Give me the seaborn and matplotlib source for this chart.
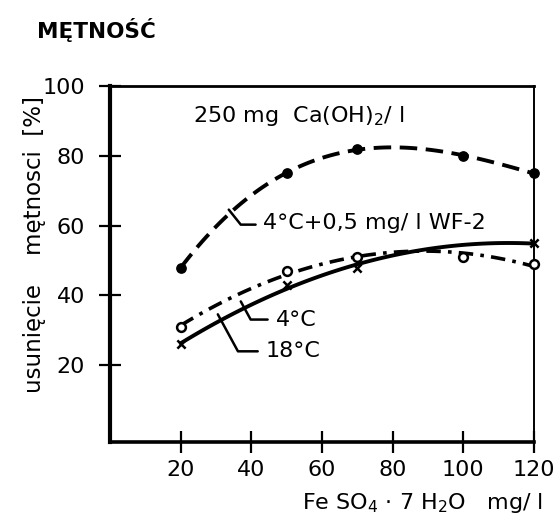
import numpy as np
import pandas as pd
import matplotlib
matplotlib.use("Agg")
import matplotlib.pyplot as plt
import seaborn as sns

# Data
x_wf2 = [20, 50, 70, 100, 120]
y_wf2 = [48, 75, 82, 80, 75]          # 4°C + 0,5 mg/l WF-2 (filled circles, dashed)
x_4c = [20, 50, 70, 100, 120]
y_4c = [31, 47, 51, 51, 49]           # 4°C (open circles, dash-dot)
x_18c = [20, 50, 70, 120]
y_18c = [26, 43, 48, 55]              # 18°C (crosses, solid)

x_ticks = [20, 40, 60, 80, 100, 120]
y_ticks = [20, 40, 60, 80, 100]

title = "MĘTNOŚĆ"
ylabel = "usunięcie    mętnosci  [%]"
xlabel = "Fe SO$_4$ · 7 H$_2$O   mg/ l"

sns.set_style("white")
plt.rcParams["font.family"] = ["DejaVu Sans"]
plt.rcParams["text.color"] = "black"

fig = plt.figure(figsize=(5.59, 5.25), dpi=100)
ax = fig.add_axes([0.197, 0.158, 0.758, 0.678])

df1 = pd.DataFrame({"x": x_wf2, "y": y_wf2})
df2 = pd.DataFrame({"x": x_4c, "y": y_4c})
df3 = pd.DataFrame({"x": x_18c, "y": y_18c})

sns.regplot(data=df1, x="x", y="y", order=3, ci=None, ax=ax, marker="o",
            scatter_kws=dict(s=45, color="black", alpha=1, zorder=4, clip_on=False),
            line_kws=dict(color="black", lw=2.8, dashes=(4.5, 2.2)))
sns.regplot(data=df2, x="x", y="y", order=2, ci=None, ax=ax, marker="o",
            scatter_kws=dict(s=40, facecolors="white", edgecolors="black",
                             alpha=1, linewidths=1.8, zorder=4, clip_on=False),
            line_kws=dict(color="black", lw=2.6, dashes=(4, 2, 1, 2)))
sns.regplot(data=df3, x="x", y="y", order=2, ci=None, ax=ax, marker="x",
            scatter_kws=dict(s=35, color="black", alpha=1, linewidths=1.8,
                             zorder=4, clip_on=False),
            line_kws=dict(color="black", lw=2.8))

ax.set_xlim(0, 120)
ax.set_ylim(-2, 100)
ax.set_xticks(x_ticks)
ax.set_yticks(y_ticks)
ax.set_xticklabels([str(v) for v in x_ticks])
ax.set_yticklabels([str(v) for v in y_ticks])
ax.set_xlabel("")
ax.set_ylabel("")
ax.tick_params(axis="both", direction="inout", length=16, width=1.6,
               labelsize=16, colors="black", bottom=True, left=True)
ax.tick_params(axis="y", pad=10)
ax.tick_params(axis="x", pad=5)

for side, w in [("left", 3.0), ("bottom", 2.6), ("top", 2.0), ("right", 1.4)]:
    ax.spines[side].set_visible(True)
    ax.spines[side].set_linewidth(w)
    ax.spines[side].set_color("black")

# Annotations
fs = 16
ax.text(23.4, 91.4, "250 mg  Ca(OH)$_2$/ l", fontsize=fs, va="center", ha="left")
lead_kw = dict(color="black", lw=1.8)
ax.plot([33.6, 37.0, 41.2], [64.6, 60.3, 60.3], **lead_kw)
ax.text(43.2, 60.8, "4°C+0,5 mg/ l WF-2", fontsize=fs, va="center", ha="left")
ax.plot([37.0, 39.8, 44.6], [38.3, 33.1, 33.1], **lead_kw)
ax.text(46.9, 33.1, "4°C", fontsize=fs, va="center", ha="left")
ax.plot([30.5, 36.2, 41.8], [34.6, 24.0, 24.0], **lead_kw)
ax.text(44.1, 24.0, "18°C", fontsize=fs, va="center", ha="left")

fig.text(0.066, 0.943, title, fontsize=15.5, fontweight="bold", va="center", ha="left")
fig.text(0.061, 0.535, ylabel, fontsize=16.5, rotation=90, va="center", ha="center")
fig.text(0.971, 0.042, xlabel, fontsize=16, va="center", ha="right")

fig.savefig("out.png", dpi=100)
